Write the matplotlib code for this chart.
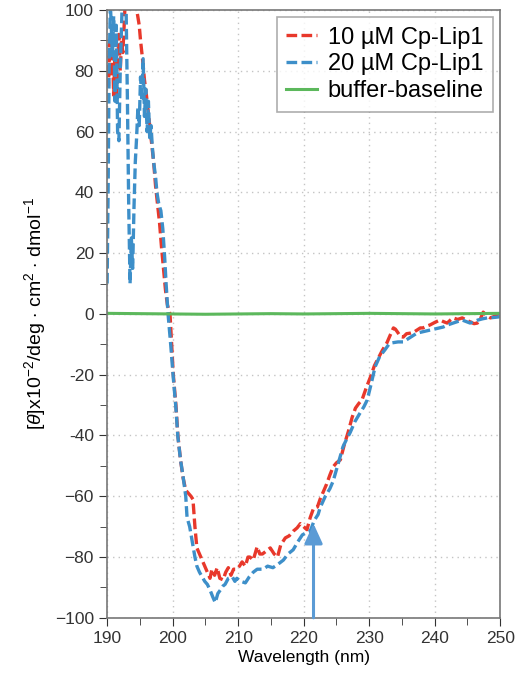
import matplotlib.pyplot as plt
from matplotlib.ticker import MultipleLocator, FixedLocator, FixedFormatter

plt.rcParams['font.family'] = ['Liberation Sans', 'DejaVu Sans']
plt.rcParams['mathtext.fontset'] = 'custom'
plt.rcParams['mathtext.rm'] = 'Liberation Sans'
plt.rcParams['mathtext.it'] = 'Liberation Sans:italic'

# CD spectra
wl_10uM = [190.0, 190.2, 190.4, 190.6, 190.8, 191.0, 191.2, 191.4, 191.6, 191.8,
           192.0, 192.2, 192.4, 192.6, 192.9, 193.5, 194.2, 194.6, 194.9, 195.1,
           195.4, 195.7, 196.0, 196.3, 196.6, 196.9, 197.1, 197.4, 197.7, 198.0,
           198.3, 198.6, 198.9, 199.2, 199.6, 200.1, 200.5, 200.8, 201.2, 201.6,
           202.0, 202.4, 202.8, 203.1, 203.4, 203.7, 204.1, 204.5, 204.9, 205.3,
           205.7, 206.0, 206.4, 206.8, 207.2, 207.7, 208.1, 208.5, 208.9, 209.3,
           209.8, 210.2, 210.6, 211.1, 211.5, 211.8, 212.3, 212.9, 213.3, 213.7,
           214.3, 214.9, 215.5, 216.0, 216.5, 217.2, 217.8, 218.4, 219.0, 219.5,
           220.0, 220.5, 221.0, 221.5, 222.1, 222.5, 223.0, 223.5, 224.0, 224.5,
           225.0, 225.6, 226.2, 226.8, 227.4, 227.9, 228.4, 228.9, 229.6, 230.2,
           230.8, 231.4, 232.0, 232.7, 233.2, 233.7, 234.0, 234.3, 234.8, 235.2,
           235.7, 236.3, 236.8, 237.3, 237.8, 238.2, 238.8, 239.3, 240.0, 240.8,
           241.3, 241.9, 242.4, 242.8, 243.5, 244.2, 244.8, 245.4, 246.0, 246.5,
           247.0, 247.4, 247.9, 248.5, 249.1, 249.7, 250.0]
cd_10uM = [82, 75, 90, 78, 88, 72, 85, 70, 80, 92,
           80, 90, 86, 95, 110, 120, 110, 99, 95, 90,
           84, 77, 72, 66, 60, 54, 50, 42, 36, 30,
           22, 15, 8, 3, 0, -20, -30, -40, -48, -54,
           -58, -59, -60, -61, -70, -77, -79, -81, -83, -85,
           -87, -84, -86, -83.5, -87, -87.5, -85, -83.5, -86, -84,
           -84, -83, -81.6, -83, -80, -80, -81, -76.6, -79, -79,
           -78, -77, -79, -80, -76, -73.7, -73, -71.5, -70.4, -69,
           -70, -71, -67, -64, -63.5, -61, -58.5, -56, -53, -50.3,
           -49, -48, -43, -38.8, -34, -31, -29.5, -28.3, -24, -20.7,
           -17, -14.5, -12, -9.5, -7, -4.6, -5.0, -5.9, -7.5, -7.6,
           -6.5, -6.3, -6, -5.3, -4.6, -4.6, -4, -3.6, -2.8, -2,
           -2.5, -3, -2, -1.3, -1.8, -1.3, -2, -2.6, -3.2, -3,
           -1.5, 0.6, -0.5, -1.3, -0.8, 0, 0.5]

wl_20uM = [190.0, 190.15, 190.3, 190.5, 190.8, 191.0, 191.2, 191.4, 191.6, 191.8,
           192.0, 192.3, 192.6, 192.9, 193.1, 193.3, 193.5, 193.7, 193.9, 194.1,
           194.3, 194.5, 194.7, 194.9, 195.1, 195.3, 195.5, 195.7, 195.9, 196.1,
           196.3, 196.5, 196.7, 196.9, 197.1, 197.4, 197.6, 197.9, 198.2, 198.5,
           198.8, 199.0, 199.3, 199.7, 200.1, 200.5, 200.8, 201.2, 201.6, 202.0,
           202.2, 202.6, 203.0, 203.4, 203.7, 204.1, 204.5, 204.9, 205.3, 205.7,
           206.1, 206.5, 206.9, 207.3, 207.7, 208.0, 208.5, 209.1, 209.5, 209.8,
           210.4, 211.1, 211.7, 212.3, 212.9, 213.8, 214.5, 215.3, 216.0, 216.9,
           217.6, 218.4, 219.1, 219.8, 220.4, 221.0, 221.6, 222.2, 222.5, 223.3,
           224.0, 224.5, 225.3, 226.0, 226.6, 227.1, 227.8, 228.6, 229.2, 229.7,
           230.3, 230.9, 231.6, 232.4, 233.0, 233.5, 234.4, 235.2, 236.2, 237.3,
           238.3, 239.3, 240.3, 241.3, 242.0, 242.8, 243.5, 244.2, 244.8, 245.4,
           246.0, 246.6, 247.3, 248.0, 248.8, 249.7, 250.0]
cd_20uM = [10, 40, 80, 102, 85, 98, 70, 95, 60, 57,
           80, 102, 105, 100, 70, 35, 10, 25, 15, 35,
           50, 58, 68, 62, 78, 70, 84, 65, 74, 60,
           70, 58, 62, 55, 50, 45, 40, 36, 34, 28,
           18, 10, 0, -10, -21, -31, -40.5, -48, -53.6, -60,
           -67, -70, -75, -80, -83, -85, -86.5, -88, -89, -90.8,
           -93, -95, -92, -90.8, -89.5, -89, -87, -86.5, -88, -87,
           -88, -88.5, -86.5, -85, -84, -84, -83, -83.5, -82.5, -81,
           -79, -77.6, -75, -72.7, -72, -71.5, -68, -66, -63.8, -60,
           -57.5, -55, -49, -43.7, -41, -39, -35.5, -32.6, -30.5, -28.3,
           -23, -17.4, -14, -11.8, -10, -9.5, -9.2, -9.2, -7.8, -6.3,
           -5.8, -5.3, -4.8, -4.3, -3.6, -3, -2.5, -2, -2.5, -3,
           -2.5, -2, -1.6, -1.3, -1.2, -1, -0.8]

wl_buffer = [190, 195, 200, 205, 210, 215, 220, 225, 230, 235, 240, 245, 250]
cd_buffer = [0.2, 0.1, 0.0, -0.1, 0.0, 0.1, 0.0, 0.1, 0.2, 0.1, 0.0, 0.1, 0.2]

arrow_wl = 221.5
arrow_from, arrow_to = -100, -69

y_ticks = [100, 80, 60, 40, 20, 0, -20, -40, -60, -80, -100]
y_labels = ['100', '80', '60', '40', '20', '0', '-20', '-40',
            '\u221260', '\u221280', '\u2212100']

red = '#e8382b'
blue = '#3d8fc9'
green = '#5cb85c'

fig = plt.figure(figsize=(5.2, 6.73), dpi=100)
ax = fig.add_axes([0.206, 0.082, 0.756, 0.903])

ax.plot(wl_10uM, cd_10uM, color=red, lw=2.4, dashes=(3.2, 1.3), label='10 \u00b5M Cp-Lip1')
ax.plot(wl_20uM, cd_20uM, color=blue, lw=2.4, dashes=(3.2, 1.3), label='20 \u00b5M Cp-Lip1')
ax.plot(wl_buffer, cd_buffer, color=green, lw=2.2, label='buffer-baseline')

ax.annotate('', xy=(arrow_wl, arrow_to), xytext=(arrow_wl, arrow_from),
            arrowprops=dict(arrowstyle='-|>,head_length=1.2,head_width=0.55',
                            color='#5b9bd5', lw=2.2, shrinkA=0, shrinkB=0),
            annotation_clip=False)

ax.set_xlim(190, 250)
ax.set_ylim(-100, 100)
ax.xaxis.set_major_locator(MultipleLocator(10))
ax.xaxis.set_minor_locator(MultipleLocator(5))
ax.yaxis.set_major_locator(FixedLocator(y_ticks))
ax.yaxis.set_major_formatter(FixedFormatter(y_labels))
ax.yaxis.set_minor_locator(MultipleLocator(10))
ax.tick_params(which='both', direction='out', colors='#333333', labelsize=12.5,
               top=False, right=False)
ax.tick_params(which='major', length=6)
ax.tick_params(which='minor', length=5)
ax.grid(which='major', linestyle=(0, (1, 3)), color='#c4c4c4', lw=1)
for s in ax.spines.values():
    s.set_color('#777777')
    s.set_linewidth(1.2)

ax.set_xlabel('Wavelength (nm)', fontsize=12.5, labelpad=3)
ax.set_ylabel(r'[$\theta$]x10$^{-2}$/deg $\cdot$ cm$^{2}$ $\cdot$ dmol$^{-1}$',
              fontsize=14, labelpad=5)

leg = ax.legend(loc='upper right', fontsize=17, frameon=True, fancybox=False,
                handlelength=1.3, handletextpad=0.45, borderpad=0.4,
                labelspacing=0.2, borderaxespad=0.3)
leg.get_frame().set_edgecolor('#999999')
leg.get_frame().set_linewidth(1.2)

fig.savefig('out.png', dpi=100)
